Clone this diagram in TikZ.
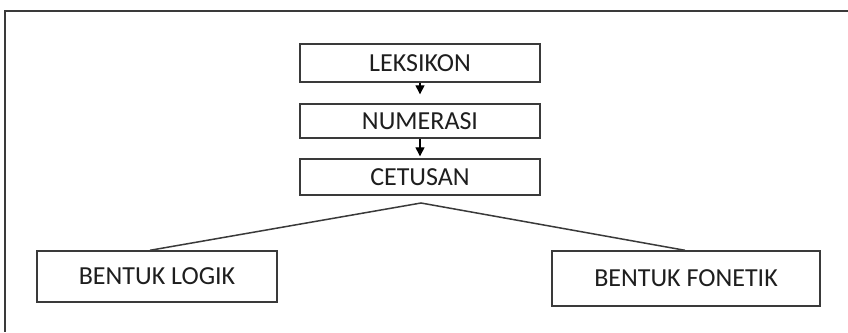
\documentclass[tikz,border=0pt]{standalone}
\usepackage{fontspec}
\setmainfont{Carlito}
\usetikzlibrary{arrows.meta}
\definecolor{linegray}{HTML}{3A3A3A}
\definecolor{txt}{HTML}{1E1E1E}
\begin{document}
\begin{tikzpicture}[x=1pt,y=-1pt,
  box/.style={draw=linegray,line width=1.4pt,rectangle,inner sep=0pt,
    text=txt,font=\fontsize{26}{26}\selectfont},
  arr/.style={draw=black,line width=1.3pt,-{Triangle[width=9pt,length=9pt]}},
  link/.style={draw=linegray,line width=1.5pt}]
\useasboundingbox (0,0) rectangle (848,332);
\fill[white] (0,0) rectangle (848,332);
% frame
\draw[linegray,line width=2pt] (848,11) -- (5,11) -- (5,332);
% nodes
\node[box,minimum width=240pt,minimum height=38pt] (lek) at (420,63) {LEKSIKON};
\node[box,minimum width=240pt,minimum height=34pt] (num) at (420,121) {NUMERASI};
\node[box,minimum width=240pt,minimum height=36pt] (cet) at (420,177) {CETUSAN};
\node[box,minimum width=240pt,minimum height=51pt] (log) at (157,276.5) {BENTUK LOGIK};
\node[box,minimum width=268pt,minimum height=55pt] (fon) at (686,278.5) {BENTUK FONETIK};
\coordinate (apex) at (421,203);
% connectors
\draw[arr,shorten >=9pt] (lek.south) -- (num.north);
\draw[arr,shorten >=2pt] (num.south) -- (cet.north);
\draw[link] (log.north -| 150,0) -- (apex) -- (fon.north -| 685,0);
\end{tikzpicture}
\end{document}
